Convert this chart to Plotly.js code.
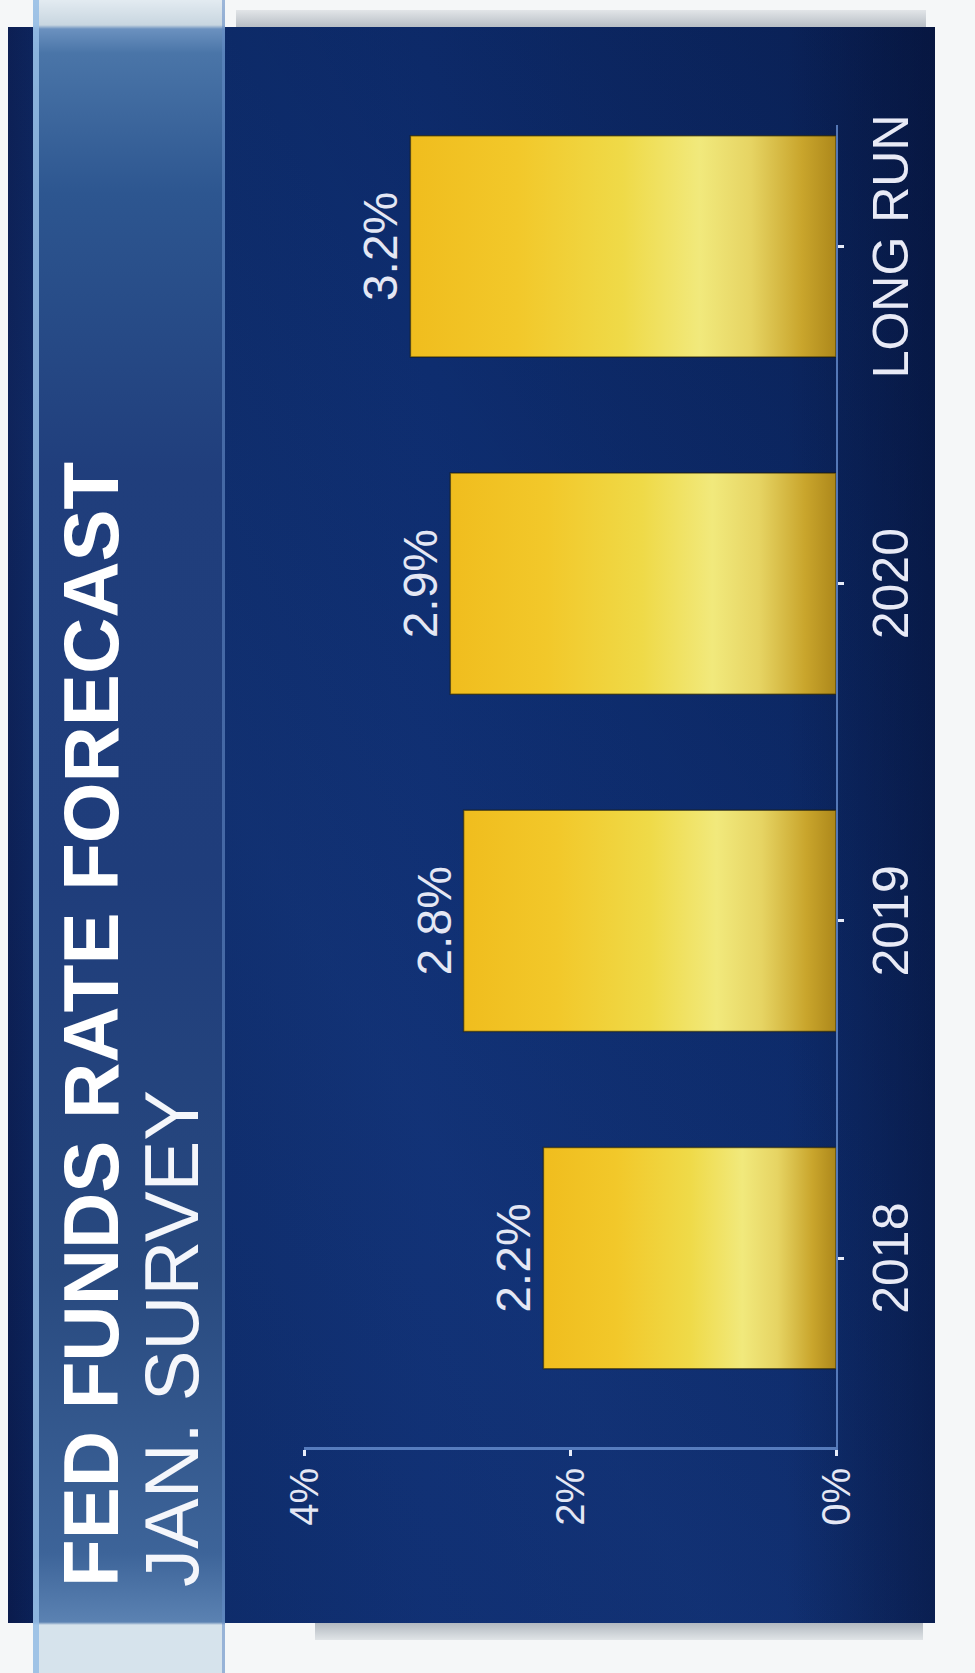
<!DOCTYPE html>
<html><head><meta charset="utf-8">
<script src="https://cdn.plot.ly/plotly-3.0.1.min.js"></script>
<style>
html,body{margin:0;padding:0;width:975px;height:1673px;overflow:hidden;background:#f6f7f8;}
#land{position:absolute;left:0;top:0;width:1673px;height:975px;transform-origin:0 0;transform:translate(0,1673px) rotate(-90deg);background:#f5f7f8;}
.abs{position:absolute;}
#shTop{left:1646px;top:236px;width:17px;height:690px;background:linear-gradient(to right,#b7bec5,#e2e5e8);}
#shBot{left:33px;top:315px;width:17px;height:608px;background:linear-gradient(to left,#b2b9c0,#e0e4e7);}
#panel{left:50px;top:8px;width:1596px;height:927px;background:
 linear-gradient(to bottom, rgba(0,0,0,0) 0%, rgba(0,0,0,0) 84%, rgba(3,10,40,0.40) 100%),
 linear-gradient(150deg, rgba(0,0,0,0) 0%, rgba(40,80,160,0.16) 38%, rgba(0,0,0,0) 62%, rgba(2,10,40,0.35) 100%),
 linear-gradient(to bottom,#0a1b4d 0%,#0c2862 6%,#0e2d6f 45%,#0d2a68 100%);}
#band{left:0;top:33px;width:1673px;height:192px;box-sizing:border-box;
 border-top:6px solid rgba(150,190,230,0.85);border-bottom:3px solid rgba(100,140,200,0.55);
 background:linear-gradient(to right,#d6e3ec 0px,#d6e3ec 48px,#5b82b2 51px,#3d6499 120px,#28497f 400px,#1f3d7b 800px,#203e7c 1200px,#2d5690 1480px,#4a75a8 1620px,#6b91bf 1644px,#c8d6e0 1648px,#e3ebf1 100%);}
#plot{left:0;top:0;width:1673px;height:975px;}
</style></head>
<body>
<div id="land">
  <div id="shTop" class="abs"></div>
  <div id="shBot" class="abs"></div>
  <div id="panel" class="abs"></div>
  <div id="band" class="abs"></div>
  <div id="plot" class="abs"></div>
</div>
<script>
const categories = ['2018', '2019', '2020', 'LONG RUN'];
const rates = [2.2, 2.8, 2.9, 3.2];
const rateLabels = ['2.2%', '2.8%', '2.9%', '3.2%'];
const yTickVals = [0, 2, 4];
const yTickText = ['0%', '2%', '4%'];
const titleText = 'FED FUNDS RATE FORECAST';
const subtitleText = 'JAN. SURVEY';

const SANS = '"Liberation Sans", Arial, sans-serif';
const W = 1673, H = 975, L = 226, R = 125, T = 304, B = 139;
const PW = W - L - R, PH = H - T - B;
const px = u => (u - L) / PW;
const py = v => (H - B - v) / PH;
const labelColor = '#e4e7f4';

const trace = {
  type: 'bar',
  x: categories,
  y: rates,
  text: rateLabels,
  textposition: 'outside',
  textangle: 0,
  cliponaxis: false,
  textfont: {family: SANS, size: 48, color: labelColor},
  marker: {color: '#efd545', line: {color: 'rgba(30,25,0,0.55)', width: 1.5}},
  hoverinfo: 'skip'
};

const layout = {
  width: W, height: H,
  margin: {l: L, r: R, t: T, b: B, pad: 0},
  paper_bgcolor: 'rgba(0,0,0,0)',
  plot_bgcolor: 'rgba(0,0,0,0)',
  bargap: 0.344,
  showlegend: false,
  xaxis: {
    type: 'category', range: [-0.56, 3.36],
    showline: true, linecolor: 'rgba(110,150,215,0.75)', linewidth: 2,
    ticks: 'outside', ticklen: 6, tickwidth: 3, tickcolor: '#e8ecf8',
    tickfont: {family: SANS, size: 50, color: '#e8eaf6'},
    ticklabelstandoff: 4,
    showgrid: false, zeroline: false, fixedrange: true
  },
  yaxis: {
    range: [0, 4], tickvals: yTickVals, ticktext: yTickText,
    showline: true, linecolor: 'rgba(110,150,215,0.75)', linewidth: 3,
    ticks: 'outside', ticklen: 6, tickwidth: 3, tickcolor: '#e8ecf8',
    tickfont: {family: SANS, size: 40, color: labelColor},
    ticklabelstandoff: 4,
    showgrid: false, zeroline: false, fixedrange: true
  },
  annotations: [
    {text: titleText, xref: 'paper', yref: 'paper', x: px(84), y: py(91),
     xanchor: 'left', yanchor: 'middle', showarrow: false,
     font: {family: SANS, size: 78, color: '#ffffff', weight: 700}},
    {text: subtitleText, xref: 'paper', yref: 'paper', x: px(84), y: py(171),
     xanchor: 'left', yanchor: 'middle', showarrow: false,
     font: {family: SANS, size: 76, color: '#f4f6fb'}}
  ]
};

Plotly.newPlot('plot', [trace], layout, {staticPlot: true, displayModeBar: false}).then(gd => {
  const NS = 'http://www.w3.org/2000/svg';
  const svg = gd.querySelector('.main-svg');
  let defs = svg.querySelector('defs');
  if (!defs) { defs = document.createElementNS(NS, 'defs'); svg.insertBefore(defs, svg.firstChild); }
  const g = document.createElementNS(NS, 'linearGradient');
  g.setAttribute('id', 'goldGrad');
  g.setAttribute('x1', '0'); g.setAttribute('y1', '0');
  g.setAttribute('x2', '0'); g.setAttribute('y2', '1');
  [[0, '#f0bd1e'], [0.25, '#f2c82a'], [0.5, '#efda48'], [0.68, '#f1e97c'],
   [0.8, '#e6d463'], [0.92, '#c9a52c'], [1, '#ad881b']].forEach(([o, c]) => {
    const s = document.createElementNS(NS, 'stop');
    s.setAttribute('offset', o); s.setAttribute('stop-color', c);
    g.appendChild(s);
  });
  defs.appendChild(g);
  gd.querySelectorAll('.bars .point path').forEach(p => { p.style.fill = 'url(#goldGrad)'; });
});
</script>
</body></html>
